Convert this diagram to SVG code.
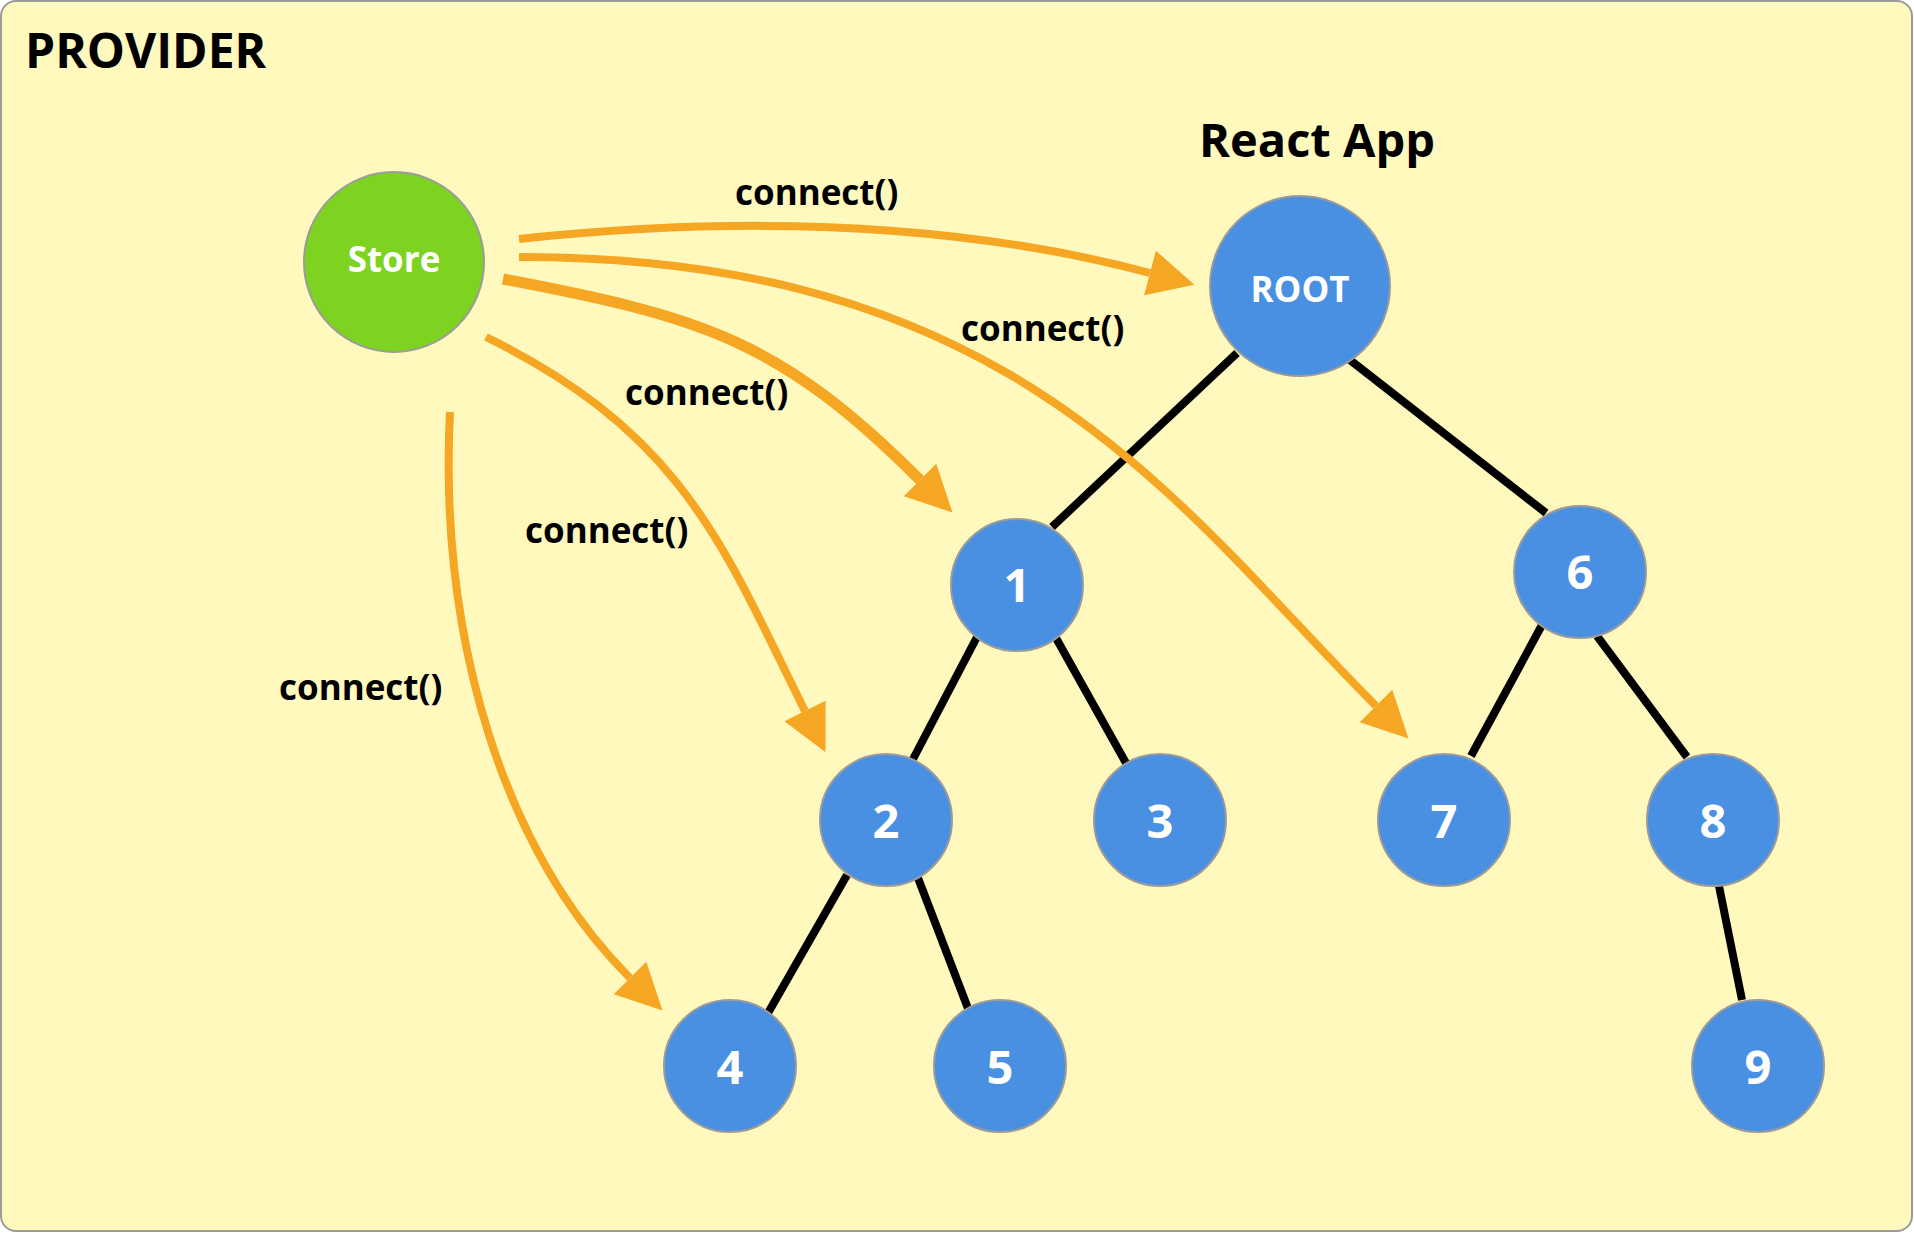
<svg xmlns="http://www.w3.org/2000/svg" width="1914" height="1234" viewBox="0 0 1914 1234">
<style>
.bg{fill:#FFF9BE;stroke:#9B9B9B;stroke-width:2}
.title{font-family:"Open Sans","Liberation Sans",sans-serif;font-weight:bold;fill:#000}
.lbl{font-family:"Open Sans","Liberation Sans",sans-serif;font-weight:bold;font-size:35px;fill:#000}
.node{fill:#4A90E2;stroke:#9B9B9B;stroke-width:2}
.store{fill:#7ED321;stroke:#9B9B9B;stroke-width:2}
.ntext{font-family:"Open Sans","Liberation Sans",sans-serif;font-weight:bold;fill:#FFFFFF;text-anchor:middle}
.edge{stroke:#000;stroke-width:8;fill:none}
.arrow{stroke:#F5A623;stroke-width:8;fill:none;marker-end:url(#head)}
</style>
<defs>
<marker id="head" markerUnits="userSpaceOnUse" markerWidth="48" markerHeight="48" refX="0" refY="23" orient="auto" overflow="visible">
<path d="M0,0 L46,23 L0,46 Z" fill="#F5A623"/>
</marker>
</defs>
<rect class="bg" x="1" y="1" width="1911" height="1230" rx="15" ry="15"/>
<text class="title" x="25" y="68" font-size="48">PROVIDER</text>
<text class="title" x="1199" y="157" font-size="47">React App</text>
<g id="edges">
<line class="edge" x1="1237" y1="353" x2="1052" y2="527"/>
<line class="edge" x1="1350" y1="360" x2="1546" y2="513"/>
<line class="edge" x1="977" y1="637" x2="912" y2="761"/>
<line class="edge" x1="1056" y1="638" x2="1126" y2="763"/>
<line class="edge" x1="847" y1="875" x2="768" y2="1013"/>
<line class="edge" x1="918" y1="878" x2="969" y2="1011"/>
<line class="edge" x1="1542" y1="625" x2="1471" y2="756"/>
<line class="edge" x1="1597" y1="636" x2="1687" y2="757"/>
<line class="edge" x1="1719" y1="886" x2="1742" y2="1000"/>
</g>
<g id="store"><circle class="store" cx="394" cy="262" r="90"/><text class="ntext" x="394" y="272" font-size="35">Store</text></g>
<g id="root"><circle class="node" cx="1300" cy="286" r="90"/><text class="ntext" x="1300" y="302" font-size="35">ROOT</text></g>
<g id="n1"><circle class="node" cx="1017" cy="585" r="66"/><text class="ntext" x="1017" y="602" font-size="47">1</text></g>
<g id="n6"><circle class="node" cx="1580" cy="572" r="66"/><text class="ntext" x="1580" y="589" font-size="47">6</text></g>
<g id="n2"><circle class="node" cx="886" cy="820" r="66"/><text class="ntext" x="886" y="838" font-size="47">2</text></g>
<g id="n3"><circle class="node" cx="1160" cy="820" r="66"/><text class="ntext" x="1160" y="838" font-size="47">3</text></g>
<g id="n7"><circle class="node" cx="1444" cy="820" r="66"/><text class="ntext" x="1444" y="838" font-size="47">7</text></g>
<g id="n8"><circle class="node" cx="1713" cy="820" r="66"/><text class="ntext" x="1713" y="838" font-size="47">8</text></g>
<g id="n4"><circle class="node" cx="730" cy="1066" r="66"/><text class="ntext" x="730" y="1084" font-size="47">4</text></g>
<g id="n5"><circle class="node" cx="1000" cy="1066" r="66"/><text class="ntext" x="1000" y="1084" font-size="47">5</text></g>
<g id="n9"><circle class="node" cx="1758" cy="1066" r="66"/><text class="ntext" x="1758" y="1084" font-size="47">9</text></g>
<g id="connectors">
<path class="arrow" d="M519,239 Q880,201 1150,273"/>
<path class="arrow" d="M519,257 C1019,257 1176,506 1376,706"/>
<path class="arrow" style="stroke-width:11" d="M503,279 C703,317 780,340 920,480"/>
<path class="arrow" d="M486,337 C686,435 725,551 805,711"/>
<path class="arrow" d="M450,412 C438.5,642 505,853 630,978"/>
<text class="lbl" x="735" y="205">connect()</text>
<text class="lbl" x="961" y="341">connect()</text>
<text class="lbl" x="625" y="405">connect()</text>
<text class="lbl" x="525" y="543">connect()</text>
<text class="lbl" x="279" y="700">connect()</text>
</g>
</svg>
